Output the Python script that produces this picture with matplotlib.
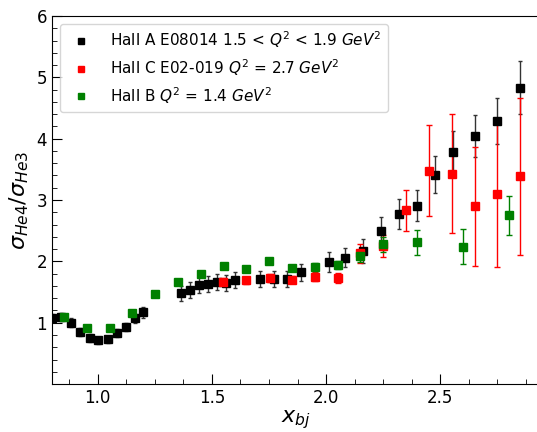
import matplotlib
matplotlib.use("Agg")
import matplotlib.pyplot as plt
from matplotlib.lines import Line2D
from matplotlib.ticker import AutoMinorLocator

# Hall A E08014
xa = [0.80, 0.84, 0.883, 0.923, 0.964, 1.00, 1.045, 1.083, 1.125, 1.164, 1.20,
      1.365, 1.404, 1.444, 1.482, 1.522, 1.563, 1.603, 1.71, 1.772, 1.83, 1.889,
      2.011, 2.083, 2.161, 2.241, 2.319, 2.40, 2.479, 2.557, 2.651, 2.748, 2.851]
ya = [1.08, 1.09, 1.00, 0.85, 0.75, 0.71, 0.73, 0.83, 0.93, 1.07, 1.17,
      1.48, 1.54, 1.61, 1.63, 1.66, 1.65, 1.70, 1.71, 1.71, 1.71, 1.82,
      1.99, 2.06, 2.17, 2.50, 2.77, 2.91, 3.41, 3.79, 4.04, 4.29, 4.83]
ea = [0.07, 0.07, 0.07, 0.07, 0.06, 0.06, 0.06, 0.07, 0.07, 0.08, 0.09,
      0.12, 0.13, 0.13, 0.13, 0.13, 0.13, 0.13, 0.13, 0.13, 0.13, 0.14,
      0.16, 0.16, 0.19, 0.23, 0.24, 0.25, 0.30, 0.34, 0.34, 0.37, 0.43]

# Hall C E02-019
xc = [1.55, 1.65, 1.754, 1.85, 1.95, 2.05, 2.15, 2.25, 2.349, 2.45, 2.55, 2.65, 2.75, 2.85]
yc = [1.67, 1.69, 1.73, 1.70, 1.75, 1.73, 2.13, 2.25, 2.83, 3.48, 3.43, 2.90, 3.10, 3.39]
ec = [0.06, 0.06, 0.06, 0.06, 0.07, 0.08, 0.15, 0.18, 0.34, 0.74, 0.97, 0.97, 1.20, 1.28]

# Hall B
xb = [0.853, 0.952, 1.052, 1.152, 1.25, 1.353, 1.452, 1.552, 1.65, 1.752, 1.85,
      1.95, 2.05, 2.15, 2.25, 2.40, 2.60, 2.80]
yb = [1.10, 0.92, 0.92, 1.16, 1.46, 1.66, 1.80, 1.93, 1.87, 2.01, 1.89,
      1.91, 1.94, 2.09, 2.28, 2.31, 2.24, 2.75]
eb = [0.03, 0.03, 0.03, 0.03, 0.03, 0.03, 0.04, 0.04, 0.04, 0.05, 0.05,
      0.06, 0.07, 0.10, 0.12, 0.20, 0.29, 0.32]

labels = [r'Hall A E08014 1.5 < $Q^2$ < 1.9 $GeV^2$',
          r'Hall C E02-019 $Q^2$ = 2.7 $GeV^2$',
          r'Hall B $Q^2$ = 1.4 $GeV^2$']

fig = plt.figure(figsize=(5.37, 4.32), dpi=100)
ax = fig.add_axes([0.097, 0.111, 0.91, 0.852])

ax.errorbar(xa, ya, yerr=ea, fmt='s', color='black', ms=5.5, capsize=1.5, elinewidth=1,
            ecolor='#333333')
ax.errorbar(xc, yc, yerr=ec, fmt='s', color='red', ms=5.5, capsize=2, elinewidth=1)
ax.errorbar(xb, yb, yerr=eb, fmt='s', color='green', ms=5.5, capsize=2, elinewidth=1)

handles = [Line2D([], [], ls='none', marker='s', color=c, ms=4)
           for c in ['black', 'red', 'green']]
ax.legend(handles, labels, loc='upper left', fontsize=11, handletextpad=0.9,
          labelspacing=0.45)

ax.set_xlim(0.8, 2.94)
ax.set_ylim(0, 6)
ax.set_xticks([1.0, 1.5, 2.0, 2.5])
ax.set_yticks([1, 2, 3, 4, 5, 6])
ax.xaxis.set_minor_locator(AutoMinorLocator(4))
ax.yaxis.set_minor_locator(AutoMinorLocator(5))
ax.tick_params(which='both', direction='in', labelsize=12)
ax.tick_params(which='major', length=7)
ax.tick_params(which='minor', length=3.5)

ax.set_xlabel(r'$x_{bj}$', fontsize=16, labelpad=1)
ax.set_ylabel(r'$\sigma_{He4}/\sigma_{He3}$', fontsize=16)

fig.savefig("out.png", dpi=100)
